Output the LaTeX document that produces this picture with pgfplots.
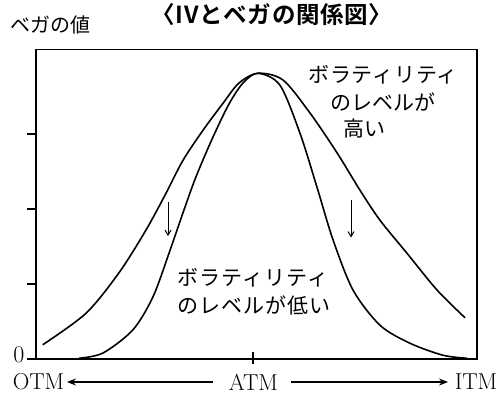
\documentclass[border=0pt]{standalone}
\usepackage{fontspec}
\usepackage{pgfplots}
\pgfplotsset{compat=1.18}
\usetikzlibrary{arrows.meta}
\newfontfamily\jp{Noto Sans CJK JP}[BoldFont={Noto Sans CJK JP Bold}]
\begin{document}
\begin{tikzpicture}
\begin{axis}[
  scale only axis,
  width=441pt, height=309.5pt,
  xmin=0, xmax=441, ymin=0, ymax=4.127,
  axis line style={line width=1.7pt},
  xtick=\empty,
  ytick={0,1,2,3},
  yticklabels={},
  ytick pos=left,
  tick align=outside,
  major tick length=9pt,
  every tick/.style={line width=1.3pt, black},
  clip=false,
]
% high volatility (wide)
\addplot[black, line width=1.6pt, smooth, tension=0.5] coordinates {
(6.7,0.19) (50,0.61) (83,1.15) (110,1.72) (130,2.21) (147,2.65) (167,3.05)
(187,3.41) (203,3.68) (222,3.81) (247,3.72) (274,3.28) (301,2.75) (324,2.25)
(344,1.85) (371,1.41) (401,0.92) (429,0.55)};
% low volatility (narrow)
\addplot[black, line width=1.6pt, smooth, tension=0.5] coordinates {
(43,0.01) (67,0.08) (97,0.39) (117,0.83) (133,1.41) (147,1.95) (160,2.43)
(177,2.96) (193,3.40) (207,3.68) (222,3.81) (244,3.65) (264,3.01) (281,2.29)
(297,1.59) (317,0.92) (344,0.45) (374,0.21) (407,0.05) (431,0.01)};
% ATM tick
\draw[line width=1.3pt] (axis cs:217,-0.06) -- (axis cs:217,0.09);
% vertical arrows
\draw[line width=1pt, -{Straight Barb[length=5pt,width=6pt]}] (axis cs:132,2.09) -- (axis cs:132,1.64);
\draw[line width=1pt, -{Straight Barb[length=5pt,width=6pt]}] (axis cs:315,2.12) -- (axis cs:315,1.62);
% annotations
\node[anchor=west, inner sep=0pt, font=\jp\fontsize{21}{21}\selectfont\addfontfeature{LetterSpace=4}] at (axis cs:272,3.79) {ボラティリティ};
\node[anchor=west, inner sep=0pt, font=\jp\fontsize{21}{21}\selectfont] at (axis cs:294,3.43) {のレベルが};
\node[anchor=west, inner sep=0pt, font=\jp\fontsize{21}{21}\selectfont] at (axis cs:307,3.08) {高い};
\node[anchor=west, inner sep=0pt, font=\jp\fontsize{21}{21}\selectfont\addfontfeature{LetterSpace=5}] at (axis cs:141,1.08) {ボラティリティ};
\node[anchor=west, inner sep=0pt, font=\jp\fontsize{21}{21}\selectfont\addfontfeature{LetterSpace=5}] at (axis cs:141,0.72) {のレベルが低い};
\end{axis}
% outer labels (axis origin at 0,0; 1pt ~ 1px)
\node[font=\fontsize{24}{24}\selectfont, inner sep=0pt] at (-17pt,4pt) {0};
\node[font=\jp\fontsize{20}{20}\selectfont, inner sep=0pt] at (14pt,334pt) {ベガの値};
\node[font=\jp\bfseries\fontsize{23.5}{23.5}\selectfont\addfontfeature{LetterSpace=3}, inner sep=0pt] at (236pt,344pt) {〈IVとベガの関係図〉};
\node[font=\fontsize{23}{23}\selectfont, inner sep=0pt] at (2.5pt,-23pt) {OTM};
\node[font=\fontsize{23}{23}\selectfont, inner sep=0pt] at (217.5pt,-23pt) {ATM};
\node[font=\fontsize{23}{23}\selectfont, inner sep=0pt] at (440pt,-23pt) {ITM};
\draw[line width=1.2pt, -{Stealth[length=9pt,width=7pt,inset=3pt]}] (177pt,-23pt) -- (31pt,-23pt);
\draw[line width=1.2pt, -{Stealth[length=9pt,width=7pt,inset=3pt]}] (255pt,-23pt) -- (412pt,-23pt);
\useasboundingbox (-36pt,-40pt) rectangle (466pt,359pt);
\end{tikzpicture}
\end{document}
